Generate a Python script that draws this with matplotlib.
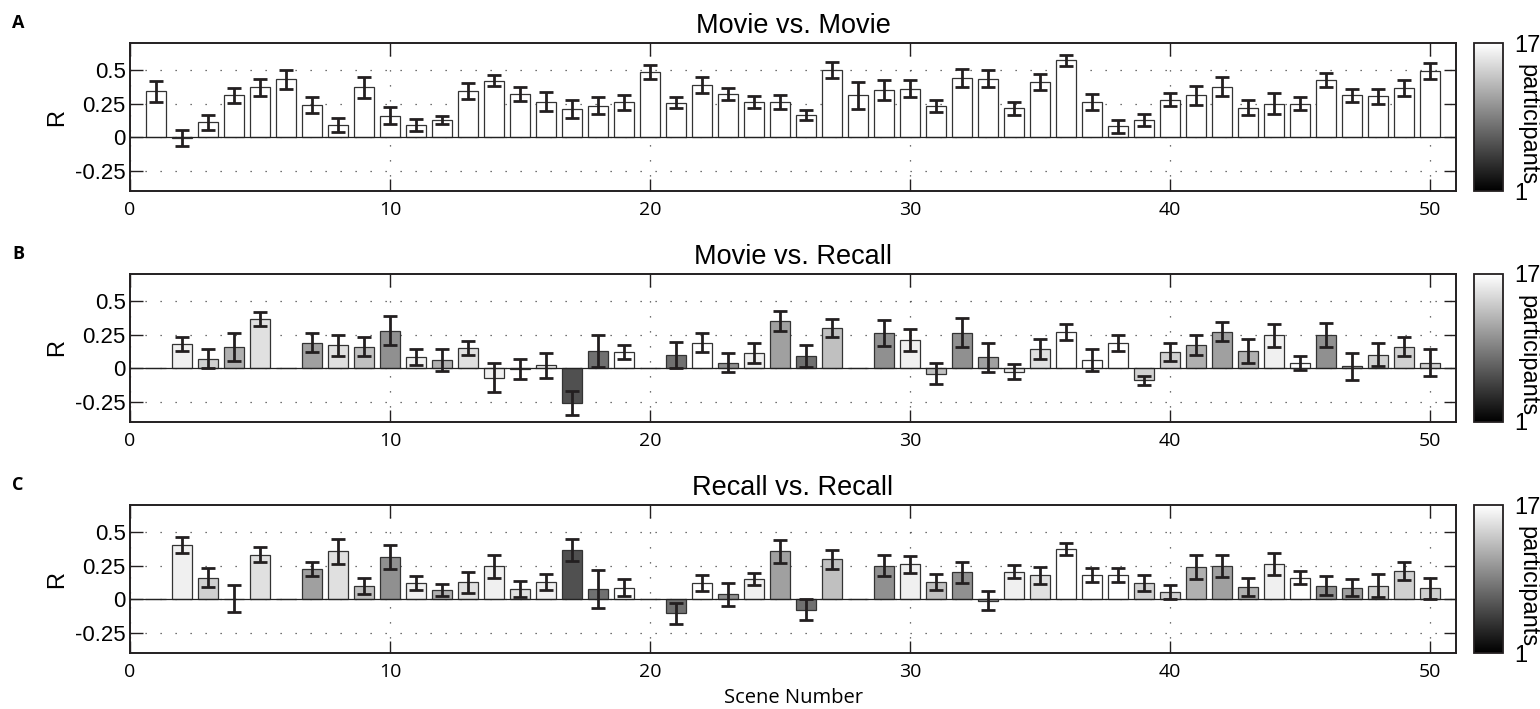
import numpy as np
import matplotlib
matplotlib.use("Agg")
import matplotlib.pyplot as plt
from matplotlib import colors, cm

# ---------------------------------------------------------------- data
scenes = np.arange(1, 51)
n_viewers = 17

movie_movie_r = [0.34, -0.005, 0.11, 0.31, 0.37, 0.43, 0.24, 0.09, 0.37, 0.16,
                 0.09, 0.125, 0.345, 0.42, 0.32, 0.265, 0.21, 0.235, 0.26, 0.485,
                 0.255, 0.39, 0.32, 0.26, 0.26, 0.165, 0.50, 0.31, 0.35, 0.36,
                 0.235, 0.44, 0.435, 0.215, 0.41, 0.57, 0.26, 0.08, 0.13, 0.28,
                 0.31, 0.375, 0.22, 0.25, 0.25, 0.425, 0.31, 0.305, 0.365, 0.49]
movie_movie_sem = [0.075, 0.06, 0.055, 0.055, 0.065, 0.07, 0.06, 0.055, 0.08, 0.065,
                   0.045, 0.03, 0.06, 0.04, 0.05, 0.07, 0.07, 0.065, 0.055, 0.055,
                   0.04, 0.06, 0.045, 0.045, 0.05, 0.04, 0.06, 0.10, 0.075, 0.065,
                   0.045, 0.065, 0.065, 0.05, 0.06, 0.04, 0.06, 0.05, 0.045, 0.045,
                   0.07, 0.07, 0.055, 0.075, 0.05, 0.055, 0.045, 0.055, 0.06, 0.06]

movie_recall_r = [0.0, 0.18, 0.07, 0.16, 0.365, 0.0, 0.19, 0.17, 0.16, 0.28,
                  0.08, 0.06, 0.15, -0.07, -0.005, 0.02, -0.26, 0.13, 0.12, 0.0,
                  0.10, 0.19, 0.04, 0.11, 0.35, 0.09, 0.30, 0.0, 0.26, 0.21,
                  -0.04, 0.265, 0.08, -0.025, 0.14, 0.27, 0.06, 0.185, -0.09, 0.12,
                  0.17, 0.27, 0.125, 0.245, 0.04, 0.245, 0.015, 0.10, 0.16, 0.04]
movie_recall_sem = [np.nan, 0.05, 0.07, 0.105, 0.05, np.nan, 0.07, 0.08, 0.07, 0.105,
                    0.06, 0.08, 0.055, 0.105, 0.075, 0.09, 0.09, 0.12, 0.055, np.nan,
                    0.095, 0.07, 0.07, 0.075, 0.075, 0.08, 0.065, np.nan, 0.095, 0.08,
                    0.08, 0.105, 0.11, 0.055, 0.075, 0.06, 0.08, 0.06, 0.035, 0.065,
                    0.075, 0.07, 0.09, 0.085, 0.05, 0.09, 0.10, 0.085, 0.07, 0.10]

recall_recall_r = [0.0, 0.40, 0.16, 0.005, 0.33, 0.0, 0.225, 0.355, 0.10, 0.315,
                   0.12, 0.065, 0.125, 0.245, 0.075, 0.125, 0.365, 0.075, 0.085, 0.0,
                   -0.105, 0.12, 0.035, 0.15, 0.357, -0.077, 0.295, 0.0, 0.25, 0.26,
                   0.13, 0.20, -0.01, 0.205, 0.178, 0.37, 0.18, 0.18, 0.12, 0.055,
                   0.24, 0.245, 0.09, 0.26, 0.16, 0.10, 0.085, 0.10, 0.21, 0.08]
recall_recall_sem = [np.nan, 0.06, 0.07, 0.10, 0.055, np.nan, 0.05, 0.095, 0.06, 0.09,
                     0.05, 0.045, 0.08, 0.085, 0.06, 0.06, 0.08, 0.14, 0.065, np.nan,
                     0.077, 0.057, 0.087, 0.042, 0.085, 0.077, 0.07, np.nan, 0.08, 0.062,
                     0.06, 0.08, 0.07, 0.05, 0.063, 0.044, 0.055, 0.05, 0.06, 0.05,
                     0.088, 0.08, 0.065, 0.08, 0.05, 0.07, 0.065, 0.085, 0.07, 0.075]

# number of participants who recalled each scene (0 = never recalled)
n_recalled = [0, 16, 14, 12, 15, 0, 11, 15, 13, 10,
              16, 12, 15, 16, 15, 16, 6, 8, 17, 0,
              8, 17, 10, 16, 11, 8, 13, 0, 10, 16,
              13, 10, 11, 16, 15, 17, 17, 17, 14, 14,
              12, 11, 12, 16, 17, 10, 11, 14, 14, 14]
n_watched = [n_viewers] * len(scenes)

panels = [
    ("A", "Movie vs. Movie", movie_movie_r, movie_movie_sem, n_watched),
    ("B", "Movie vs. Recall", movie_recall_r, movie_recall_sem, n_recalled),
    ("C", "Recall vs. Recall", recall_recall_r, recall_recall_sem, n_recalled),
]

# ---------------------------------------------------------------- style
W, H = 1540, 709
fig = plt.figure(figsize=(W / 100, H / 100), dpi=100)
fig.patch.set_facecolor("white")

helv = ["Liberation Sans", "DejaVu Sans"]
myriad = ["Open Sans", "DejaVu Sans"]
ink = "#231f20"

cmap = plt.get_cmap("gray")
norm = colors.Normalize(vmin=1, vmax=n_viewers)

ax_left, ax_right = 130, 1456
cb_left, cb_right = 1474, 1503
tops = [43, 274, 505]
ax_h = 148


def fx(px):
    return px / W


def fy(top, h):
    return 1 - (top + h) / H


for i, (letter, title, vals, sems, counts) in enumerate(panels):
    top = tops[i]
    ax = fig.add_axes([fx(ax_left), fy(top, ax_h), fx(ax_right - ax_left), ax_h / H])
    cax = fig.add_axes([fx(cb_left), fy(top, ax_h), fx(cb_right - cb_left), ax_h / H])

    face = cmap(norm(np.clip(counts, 1, None)))
    ax.bar(scenes, vals, width=0.8, color=face, edgecolor="#333333",
           linewidth=0.9, zorder=2)
    ax.errorbar(scenes, vals, yerr=sems, fmt="none", ecolor=ink,
                elinewidth=2.0, capsize=5, capthick=2.0, zorder=3)
    ax.axhline(0, color="#222222", linewidth=0.9, zorder=2.5)

    ax.set_xlim(0, 51)
    ax.set_ylim(-0.4, 0.7)
    ax.set_xticks([0, 10, 20, 30, 40, 50])
    ax.set_yticks([-0.25, 0, 0.25, 0.5])
    ax.set_yticklabels(["-0.25", "0", "0.25", "0.5"], family=helv, fontsize=16)
    ax.set_xticklabels(["0", "10", "20", "30", "40", "50"], family=myriad, fontsize=14)
    ax.tick_params(axis="both", direction="in", length=9, width=1.0,
                   top=True, right=True, color=ink)
    ax.tick_params(axis="y", pad=3)
    ax.tick_params(axis="x", pad=7)
    ax.set_axisbelow(True)
    ax.grid(True, linestyle=(0, (1, 11)), color="#444444", linewidth=0.9)
    for s in ax.spines.values():
        s.set_linewidth(1.4)
        s.set_color(ink)

    ax.set_ylabel("R", family=helv, fontsize=17, labelpad=5)
    ax.set_title(title, family=helv, fontsize=19.5, pad=7)

    fig.text(fx(18), 1 - (top - 20) / H, letter, family=myriad,
             fontweight="bold", fontsize=13, ha="center", va="center")

    # participant-count colour scale
    sm = cm.ScalarMappable(norm=norm, cmap=cmap)
    cb = fig.colorbar(sm, cax=cax, ticks=[1, n_viewers])
    cb.ax.set_yticklabels(["1", "17"], family=helv, fontsize=17)
    cb.ax.tick_params(length=0, pad=8)
    cb.outline.set_linewidth(1.3)
    cb.outline.set_edgecolor(ink)
    cax.text(1.85, 0.45, "participants", transform=cax.transAxes,
             rotation=270, ha="center", va="center", family=helv, fontsize=17)

    if i == 2:
        ax.set_xlabel("Scene Number", family=myriad, fontsize=14.5, labelpad=5)

fig.savefig("out.png", dpi=100, facecolor="white")
